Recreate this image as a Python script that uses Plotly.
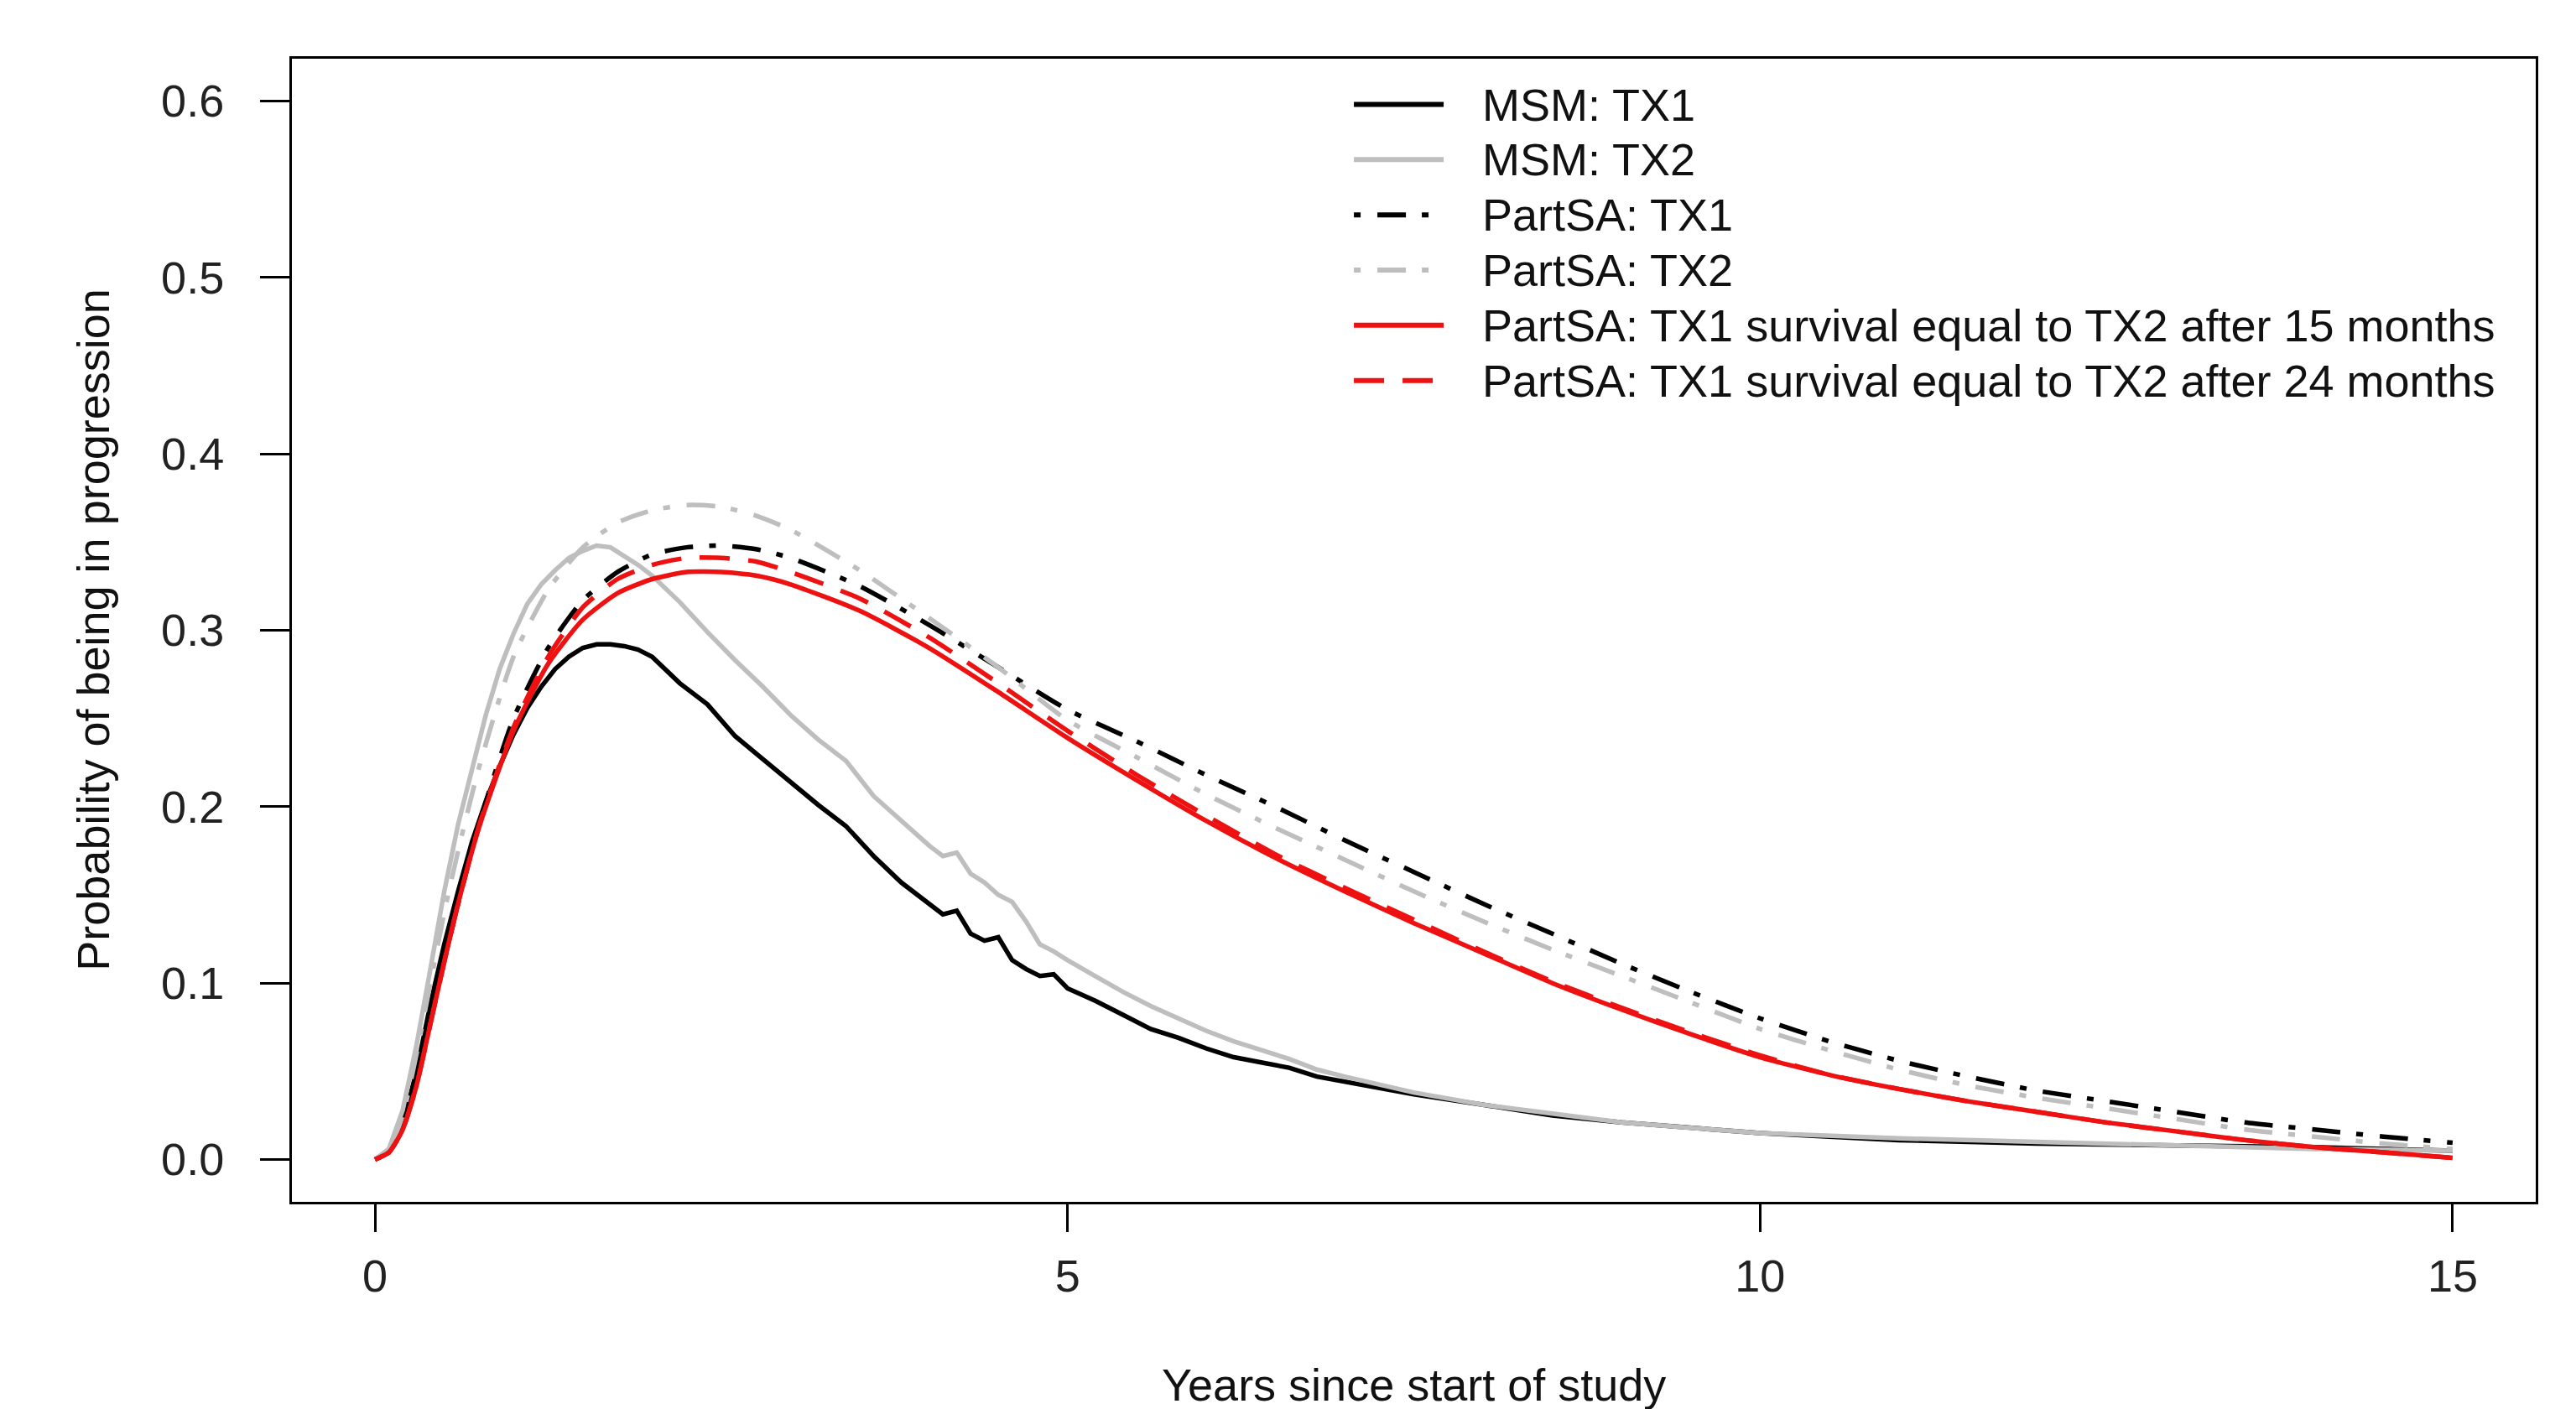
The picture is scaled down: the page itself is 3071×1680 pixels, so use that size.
import plotly.graph_objects as go

# ---------------- data ----------------
msm_x = [0, 0.1, 0.2, 0.3, 0.4, 0.5, 0.6, 0.7, 0.8, 0.9, 1.0, 1.1, 1.2, 1.3, 1.4, 1.5, 1.6, 1.7, 1.8, 1.9,
         2.0, 2.2, 2.4, 2.6, 2.8, 3.0, 3.2, 3.4, 3.6, 3.8, 4.0, 4.1, 4.2, 4.3, 4.4, 4.5, 4.6, 4.7, 4.8, 4.9,
         5.0, 5.2, 5.4, 5.6, 5.8, 6.0, 6.2, 6.4, 6.6, 6.8, 7.0, 7.5, 8.0, 8.5, 9.0, 9.5, 10, 11, 12, 13, 14, 15]

msm_tx1 = [0, 0.004, 0.020, 0.050, 0.088, 0.122, 0.152, 0.180, 0.203, 0.223, 0.241, 0.256, 0.268, 0.278, 0.285,
           0.290, 0.292, 0.292, 0.291, 0.289, 0.285, 0.270, 0.258, 0.240, 0.227, 0.214, 0.201, 0.189, 0.172, 0.157,
           0.145, 0.139, 0.141, 0.128, 0.124, 0.126, 0.113, 0.108, 0.104, 0.105, 0.097, 0.090, 0.082, 0.074, 0.069,
           0.063, 0.058, 0.055, 0.052, 0.047, 0.044, 0.037, 0.031, 0.025, 0.021, 0.018, 0.015, 0.011, 0.009, 0.008,
           0.007, 0.005]

msm_tx2 = [0, 0.006, 0.028, 0.065, 0.108, 0.152, 0.190, 0.222, 0.252, 0.278, 0.298, 0.315, 0.326, 0.334, 0.341,
           0.345, 0.348, 0.347, 0.342, 0.337, 0.331, 0.316, 0.299, 0.283, 0.268, 0.252, 0.238, 0.226, 0.206, 0.192,
           0.178, 0.172, 0.174, 0.162, 0.157, 0.150, 0.146, 0.135, 0.122, 0.118, 0.113, 0.104, 0.095, 0.087, 0.080,
           0.073, 0.067, 0.062, 0.057, 0.051, 0.047, 0.038, 0.031, 0.026, 0.021, 0.018, 0.015, 0.012, 0.010, 0.008,
           0.006, 0.005]

psa_x = [0, 0.1, 0.2, 0.3, 0.4, 0.5, 0.6, 0.75, 1.0, 1.25, 1.5, 1.75, 2.0, 2.25, 2.5, 2.75, 3.0, 3.5, 4.0, 4.5,
         5.0, 5.5, 6.0, 6.5, 7.0, 7.5, 8.0, 8.5, 9.0, 9.5, 10, 10.5, 11, 11.5, 12, 12.5, 13, 13.5, 14, 14.5, 15]

psa_tx1 = [0, 0.004, 0.018, 0.045, 0.080, 0.113, 0.145, 0.190, 0.250, 0.290, 0.317, 0.333, 0.343, 0.347, 0.348,
           0.346, 0.341, 0.325, 0.303, 0.279, 0.255, 0.237, 0.218, 0.200, 0.181, 0.163, 0.145, 0.128, 0.111, 0.095,
           0.080, 0.067, 0.056, 0.047, 0.039, 0.033, 0.027, 0.021, 0.017, 0.013, 0.0095]

psa_tx2 = [0, 0.006, 0.025, 0.060, 0.100, 0.140, 0.175, 0.222, 0.285, 0.323, 0.347, 0.361, 0.368, 0.371, 0.370,
           0.365, 0.357, 0.334, 0.307, 0.279, 0.249, 0.228, 0.207, 0.188, 0.170, 0.152, 0.135, 0.119, 0.104, 0.089,
           0.074, 0.062, 0.051, 0.042, 0.035, 0.029, 0.023, 0.017, 0.013, 0.009, 0.006]

psa_15m = [0, 0.004, 0.017, 0.042, 0.077, 0.112, 0.145, 0.188, 0.243, 0.281, 0.306, 0.321, 0.329, 0.333, 0.333,
           0.331, 0.326, 0.311, 0.290, 0.265, 0.239, 0.215, 0.192, 0.171, 0.152, 0.134, 0.117, 0.100, 0.085, 0.071,
           0.058, 0.048, 0.040, 0.033, 0.027, 0.021, 0.016, 0.011, 0.007, 0.004, 0.001]

psa_24m = [0, 0.004, 0.017, 0.042, 0.077, 0.112, 0.145, 0.189, 0.245, 0.285, 0.313, 0.329, 0.337, 0.341, 0.341,
           0.339, 0.333, 0.318, 0.296, 0.270, 0.243, 0.218, 0.195, 0.173, 0.154, 0.136, 0.118, 0.101, 0.086, 0.072,
           0.059, 0.048, 0.040, 0.033, 0.027, 0.021, 0.016, 0.011, 0.007, 0.004, 0.001]

x_ticks = [0, 5, 10, 15]
y_ticks = [0.0, 0.1, 0.2, 0.3, 0.4, 0.5, 0.6]

legend_labels = ["MSM: TX1", "MSM: TX2", "PartSA: TX1", "PartSA: TX2",
                 "PartSA: TX1 survival equal to TX2 after 15 months",
                 "PartSA: TX1 survival equal to TX2 after 24 months"]

# ---------------- styles ----------------
BLACK = "#000000"
GRAY = "#BEBEBE"
RED = "#EE1111"
DOTDASH = "8px,20px,34px,19px"
DASH = "36px,22px"
LW = 5.5
FONT = "Liberation Sans, Arial, Helvetica, sans-serif"
FS = 54

series = [
    (msm_x, msm_tx1, BLACK, "solid", "linear"),
    (msm_x, msm_tx2, GRAY, "solid", "linear"),
    (psa_x, psa_tx1, BLACK, DOTDASH, "spline"),
    (psa_x, psa_tx2, GRAY, DOTDASH, "spline"),
    (psa_x, psa_15m, RED, "solid", "spline"),
    (psa_x, psa_24m, RED, DASH, "spline"),
]

fig = go.Figure()
for (xs, ys, col, dash, shp), name in zip(series, legend_labels):
    fig.add_trace(go.Scatter(
        x=xs, y=ys, mode="lines", name=name, showlegend=False,
        line=dict(color=col, width=LW, dash=dash, shape=shp,
                  smoothing=0.6 if shp == "spline" else None),
    ))

# custom legend (R-style, no box)
leg_top = 0.960
leg_step = 0.0483
shapes = []
annotations = []
for i, ((xs, ys, col, dash, shp), name) in enumerate(zip(series, legend_labels)):
    yy = leg_top - i * leg_step
    shapes.append(dict(type="line", xref="paper", yref="paper",
                       x0=0.4733, x1=0.5133, y0=yy, y1=yy,
                       line=dict(color=col, width=LW + 0.5, dash=dash)))
    annotations.append(dict(xref="paper", yref="paper", x=0.5298, y=yy,
                            xanchor="left", yanchor="middle", showarrow=False,
                            text=name, font=dict(family=FONT, size=FS, color="#111111")))

# axis titles
annotations.append(dict(xref="paper", yref="paper", x=0.5, y=-0.160,
                        xanchor="center", yanchor="middle", showarrow=False,
                        text="Years since start of study",
                        font=dict(family=FONT, size=FS, color="#111111")))
annotations.append(dict(xref="paper", yref="paper", x=-0.0889, y=0.5,
                        xanchor="center", yanchor="middle", showarrow=False, textangle=-90,
                        text="Probability of being in progression",
                        font=dict(family=FONT, size=FS, color="#111111")))

fig.update_layout(
    width=3071, height=1680,
    margin=dict(l=340, r=56, t=62, b=255),
    paper_bgcolor="white", plot_bgcolor="white",
    font=dict(family=FONT, size=FS, color="#222222"),
    shapes=shapes, annotations=annotations,
    showlegend=False,
)
fig.update_xaxes(
    range=[-0.6, 15.6], tickmode="array", tickvals=x_ticks,
    ticktext=[str(v) for v in x_ticks],
    showgrid=False, zeroline=False,
    showline=True, linecolor="black", linewidth=3, mirror=True,
    ticks="outside", ticklen=33, tickwidth=3, tickcolor="black",
    ticklabelstandoff=6,
    tickfont=dict(family=FONT, size=FS, color="#222222"),
)
fig.update_yaxes(
    range=[-0.024, 0.624], tickmode="array", tickvals=y_ticks,
    ticktext=[f"{v:.1f}" for v in y_ticks],
    showgrid=False, zeroline=False,
    showline=True, linecolor="black", linewidth=3, mirror=True,
    ticks="outside", ticklen=35, tickwidth=3, tickcolor="black",
    ticklabelstandoff=32,
    tickfont=dict(family=FONT, size=FS, color="#222222"),
)

fig.write_html("out.html")
